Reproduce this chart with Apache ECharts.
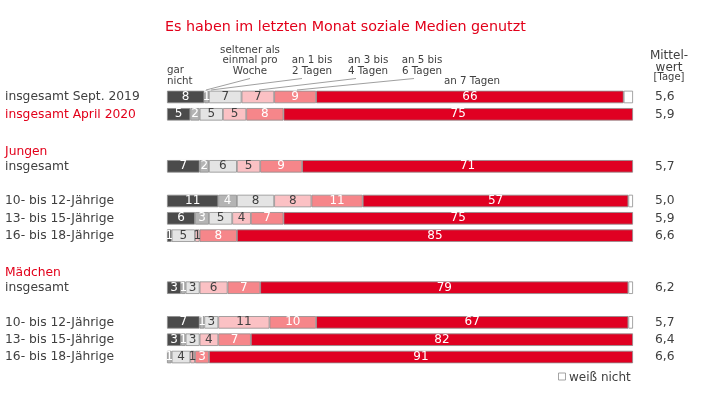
<!DOCTYPE html>
<html>
<head>
<meta charset="utf-8">
<script src="https://cdn.jsdelivr.net/npm/echarts@6/dist/echarts.min.js"></script>
<style>
html,body{margin:0;padding:0;background:#fff;}
#chart{width:703px;height:397px;}
</style>
</head>
<body>
<div id="chart"></div>
<script>
// ---- data ----
var categories = ['insgesamt Sept. 2019','insgesamt April 2020','','Jungen','insgesamt','','10- bis 12-Jährige','13- bis 15-Jährige','16- bis 18-Jährige','','Mädchen','insgesamt','','10- bis 12-Jährige','13- bis 15-Jährige','16- bis 18-Jährige'];
var rowKind = ['d','r','e','h','d','e','d','d','d','e','h','d','e','d','d','d'];
var seriesNames = ['gar nicht','seltener als einmal pro Woche','an 1 bis 2 Tagen','an 3 bis 4 Tagen','an 5 bis 6 Tagen','an 7 Tagen','weiß nicht'];
var garNicht   = [8, 5, null, null, 7, null, 11, 6, 1, null, null, 3, null, 7, 3, 0];
var seltener   = [1, 2, null, null, 2, null, 4, 3, 0, null, null, 1, null, 1, 1, 1];
var tage12     = [7, 5, null, null, 6, null, 8, 5, 5, null, null, 3, null, 3, 3, 4];
var tage34     = [7, 5, null, null, 5, null, 8, 4, 1, null, null, 6, null, 11, 4, 1];
var tage56     = [9, 8, null, null, 9, null, 11, 7, 8, null, null, 7, null, 10, 7, 3];
var tage7      = [66, 75, null, null, 71, null, 57, 75, 85, null, null, 79, null, 67, 82, 91];
var weissNicht = [2, 0, null, null, 0, null, 1, 0, 0, null, null, 1, null, 1, 0, 0];
var mittelwert = ['5,6','5,9','','','5,7','','5,0','5,9','6,6','','','6,2','','5,7','6,4','6,6'];

var FONT = '"DejaVu Sans", Verdana, sans-serif';
var TXT = '#404040';
var RED = '#e2001a';
var colors = ['#4b4b4b','#b4b4b4','#e4e4e4','#fbc1c4','#f6868a','#e00022','#ffffff'];
var labelColors = ['#ffffff','#ffffff',TXT,TXT,'#ffffff','#ffffff',TXT];
var allSeries = [garNicht, seltener, tage12, tage34, tage56, tage7, weissNicht];

var chart = echarts.init(document.getElementById('chart'), null, {renderer:'canvas'});

var series = allSeries.map(function(arr, si){
  return {
    name: seriesNames[si],
    type: 'bar',
    stack: 'all',
    barWidth: 12.5,
    yAxisIndex: 0,
    data: arr.map(function(v){ return (v === 0) ? null : v; }),
    itemStyle: {color: colors[si], borderColor: '#8e8e8e', borderWidth: 0.8},
    label: {
      show: si < 6,
      position: 'inside',
      color: labelColors[si],
      fontFamily: FONT,
      fontSize: 12,
      formatter: function(p){ return (p.value && p.value > 0) ? String(p.value) : ''; }
    },
    emphasis: {disabled: true},
    animation: false
  };
});

function txt(x, y, text, size, align, color, lh){
  return {type:'text', silent:true, style:{x:x, y:y, text:text, fill:color||TXT,
    font: size + 'px ' + FONT, textAlign: align||'center', align: align||'center',
    textVerticalAlign:'top', verticalAlign:'top', lineHeight: lh||10.5}};
}
function line(x1,y1,x2,y2){
  return {type:'line', silent:true, shape:{x1:x1,y1:y1,x2:x2,y2:y2}, style:{stroke:'#a0a0a0', lineWidth:1}};
}

var option = {
  backgroundColor: '#ffffff',
  animation: false,
  title: {
    text: 'Es haben im letzten Monat soziale Medien genutzt',
    left: 165, top: 20, padding: 0,
    textStyle: {color: RED, fontSize: 14.3, fontWeight: 'normal', fontFamily: FONT}
  },
  grid: {left: 167, right: 70, top: 88.3, bottom: 397 - 365.7, containLabel: false},
  xAxis: {type: 'value', min: 0, max: 100, show: false},
  yAxis: [{
    type: 'category',
    inverse: true,
    data: categories.map(function(c, i){ return String(i); }),
    axisLine: {show: false}, axisTick: {show: false}, splitLine: {show: false},
    axisLabel: {
      interval: 0, align: 'left', margin: 162,
      fontFamily: FONT, fontSize: 12.3, color: TXT,
      formatter: function(v, i){
        var k = rowKind[i];
        if (k === 'e') return '';
        return '{' + k + '|' + categories[i] + '}';
      },
      rich: {
        d: {color: TXT, fontFamily: FONT, fontSize: 12.3},
        r: {color: RED, fontFamily: FONT, fontSize: 12.3},
        h: {color: RED, fontFamily: FONT, fontSize: 12.3, padding: [5,0,0,0]}
      }
    }
  }, {
    type: 'category',
    inverse: true,
    position: 'right',
    data: categories.map(function(c, i){ return String(i); }),
    axisLine: {show: false}, axisTick: {show: false}, splitLine: {show: false},
    axisLabel: {
      interval: 0, align: 'left', margin: 22,
      fontFamily: FONT, fontSize: 12.3, color: TXT,
      formatter: function(v, i){ return mittelwert[i]; }
    }
  }],
  series: series,
  graphic: [
    txt(167, 65.5, 'gar\nnicht', 10.3, 'left'),
    txt(250, 44.8, 'seltener als\neinmal pro\nWoche', 10.3),
    txt(312, 55.5, 'an 1 bis\n2 Tagen', 10.3),
    txt(368, 55.5, 'an 3 bis\n4 Tagen', 10.3),
    txt(422, 55.5, 'an 5 bis\n6 Tagen', 10.3),
    txt(472, 76.5, 'an 7 Tagen', 10.3),
    line(206, 90, 250, 78.5),
    line(211, 90, 302, 78.5),
    line(259, 90, 356, 78.5),
    line(297, 90, 414, 78.5),
    txt(669, 50.5, 'Mittel-\nwert', 12, 'center', TXT, 11.5),
    txt(669, 72.5, '[Tage]', 10, 'center', TXT, 10),
    {type:'rect', silent:true, shape:{x:558.5, y:373, width:7, height:7}, style:{fill:'#fff', stroke:'#8e8e8e', lineWidth:0.8}},
    txt(569, 371, 'weiß nicht', 12, 'left', TXT, 13)
  ]
};
chart.setOption(option);
</script>
</body>
</html>
